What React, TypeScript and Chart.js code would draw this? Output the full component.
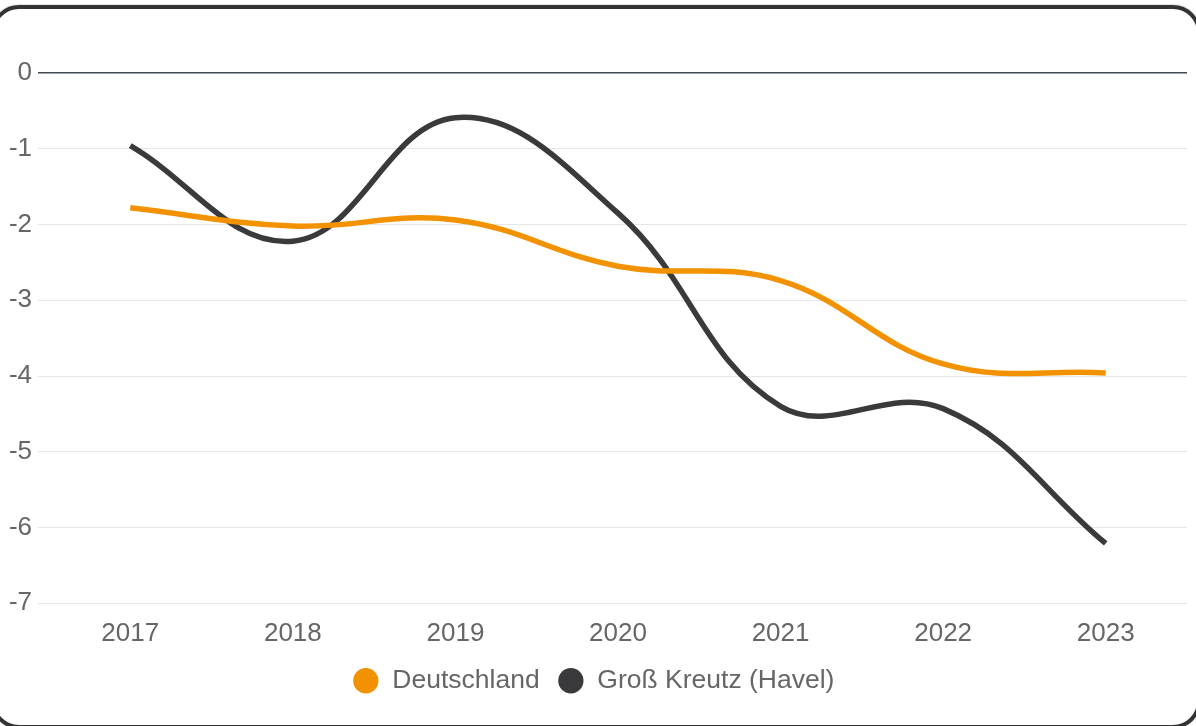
import React, { useEffect, useRef } from "react";
import { Chart, registerables } from "chart.js";

Chart.register(...registerables);

const years = ["2017", "2018", "2019", "2020", "2021", "2022", "2023"];
const deutschland = [-1.78, -2.02, -1.94, -2.55, -2.74, -3.84, -3.96];
const grossKreutz = [-0.96, -2.22, -0.59, -1.85, -4.4, -4.43, -6.21];
const seriesNames = ["Deutschland", "Groß Kreutz (Havel)"];
const seriesColors = ["#f39200", "#3a3a3c"];

const FONT = "'Liberation Sans', Arial, sans-serif";

export default function App() {
  const ref = useRef<HTMLCanvasElement>(null);

  useEffect(() => {
    if (!ref.current) return;
    const chart = new Chart(ref.current, {
      type: "line",
      data: {
        labels: years,
        datasets: [
          {
            label: seriesNames[0],
            data: deutschland,
            borderColor: seriesColors[0],
            backgroundColor: seriesColors[0],
            borderWidth: 5.5,
            pointRadius: 0,
            tension: 0.4,
            fill: false,
          },
          {
            label: seriesNames[1],
            data: grossKreutz,
            borderColor: seriesColors[1],
            backgroundColor: seriesColors[1],
            borderWidth: 5.5,
            pointRadius: 0,
            tension: 0.4,
            fill: false,
          },
        ],
      },
      options: {
        responsive: false,
        animation: false,
        layout: { padding: { top: 73, right: 9, bottom: 22, left: 0 } },
        font: { family: FONT, size: 26 },
        plugins: {
          tooltip: { enabled: false },
          legend: {
            position: "bottom",
            labels: {
              usePointStyle: true,
              pointStyle: "circle",
              boxWidth: 27,
              boxHeight: 14,
              padding: 18,
              color: "#666666",
              font: { family: FONT, size: 26.5 },
            },
          },
        },
        scales: {
          x: {
            offset: true,
            grid: { display: false, drawTicks: false },
            border: { display: false },
            afterFit: (scale: any) => {
              scale.height = scale.height - 15;
            },
            ticks: {
              color: "#666666",
              padding: 15,
              font: { family: FONT, size: 26 },
            },
          },
          y: {
            min: -7,
            max: 0,
            afterFit: (scale: any) => {
              scale.width = 49;
            },
            border: { display: false },
            grid: {
              tickLength: 11,
              color: (ctx: any) => (ctx.tick && ctx.tick.value === 0 ? "#3f4850" : "#e6e6e6"),
              lineWidth: (ctx: any) => (ctx.tick && ctx.tick.value === 0 ? 1.5 : 1),
            },
            ticks: {
              stepSize: 1,
              color: "#666666",
              padding: 6,
              font: { family: FONT, size: 26 },
            },
          },
        },
      },
    });
    return () => chart.destroy();
  }, []);

  return (
    <div style={{ position: "fixed", left: 0, top: 0, width: 1196, height: 726, background: "#fff", overflow: "hidden" }}>
      <canvas ref={ref} width={1196} height={726} style={{ position: "absolute", left: 0, top: 0 }} />
      <div
        style={{
          position: "absolute",
          left: -9,
          top: 5,
          right: -5,
          bottom: -3,
          border: "4px solid #333333",
          borderRadius: 28,
          boxShadow: "0 0 2px rgba(0,0,0,0.35)",
          pointerEvents: "none",
        }}
      />
    </div>
  );
}
